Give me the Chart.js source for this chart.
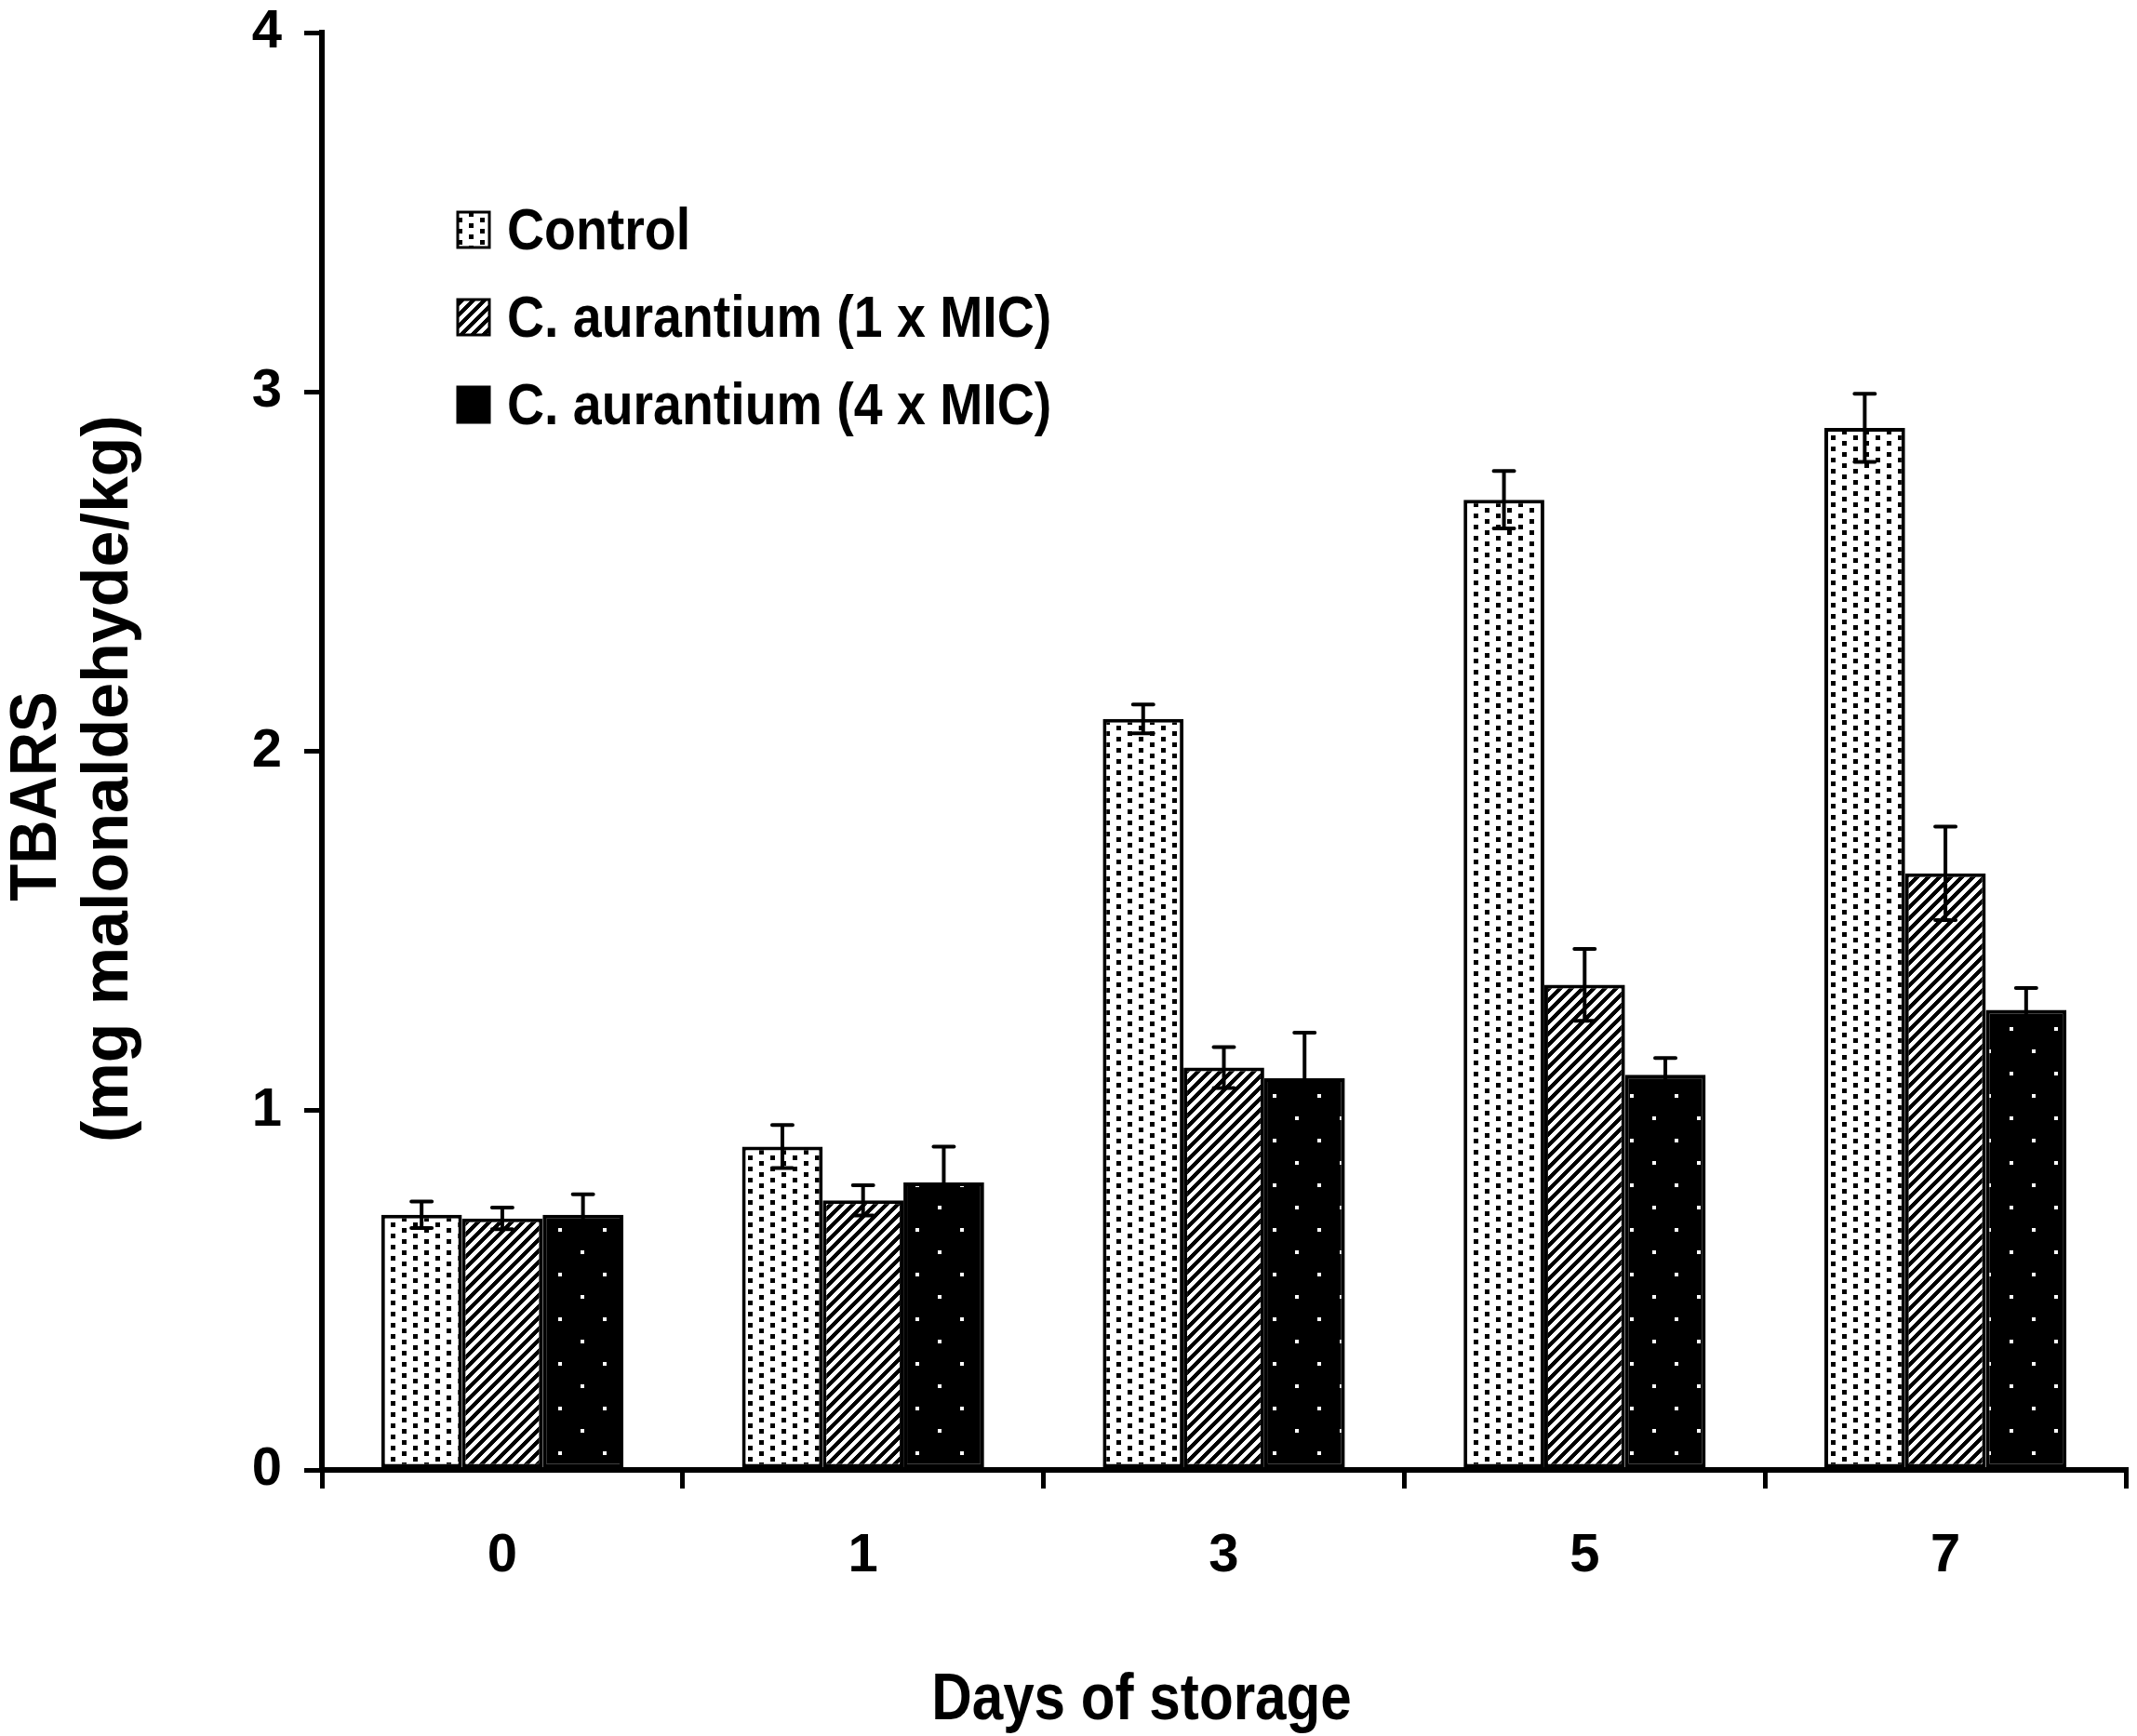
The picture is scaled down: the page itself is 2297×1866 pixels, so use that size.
<!DOCTYPE html>
<html>
<head>
<meta charset="utf-8">
<script src="https://cdn.jsdelivr.net/npm/chart.js@4.4.1/dist/chart.umd.min.js"></script>
<style>
  body { margin: 0; background: #fff; }
  canvas { display: block; }
</style>
</head>
<body>
<canvas id="tbarsChart" width="2297" height="1866" style="width:2297px;height:1866px"></canvas>
<script>
// days of storage on the x axis
const days = ['0', '1', '3', '5', '7'];
const seriesNames = ['Control', 'C. aurantium (1 x MIC)', 'C. aurantium (4 x MIC)'];

// TBARS (mg malonaldehyde/kg)
const control = [0.71, 0.90, 2.09, 2.70, 2.90];
const mic1 = [0.70, 0.75, 1.12, 1.35, 1.66];
const mic4 = [0.71, 0.80, 1.09, 1.10, 1.28];

// error bars (+/-)
const controlErr = [0.037, 0.06, 0.04, 0.08, 0.095];
const mic1Err = [0.03, 0.042, 0.057, 0.10, 0.13];
const mic4Err = [0.057, 0.10, 0.127, 0.046, 0.061];

const yTicks = [0, 1, 2, 3, 4];

const FONT = "'Liberation Sans', Arial, sans-serif";

// build a small tile and turn it into a canvas pattern
function makePattern(w, h, bg, fg, paint) {
  const c = document.createElement('canvas');
  c.width = w;
  c.height = h;
  const g = c.getContext('2d');
  g.fillStyle = bg;
  g.fillRect(0, 0, w, h);
  g.fillStyle = fg;
  paint(g, w, h);
  return document.getElementById('tbarsChart').getContext('2d').createPattern(c, 'repeat');
}

// control: small black dots on white, alternate columns shifted
const patControl = makePattern(24, 12, '#fff', '#000', function (g) {
  g.fillRect(0, 0, 5, 5);
  g.fillRect(12, 6, 5, 5);
});

// 1 x MIC: diagonal stripes going up to the right
const patMic1 = makePattern(12, 12, '#fff', '#000', function (g, w, h) {
  for (let x = 0; x < w; x++) {
    for (let y = 0; y < h; y++) {
      if ((x + y) % 12 < 6) g.fillRect(x, y, 1, 1);
    }
  }
});

// 4 x MIC: black with small white dots
const patMic4 = makePattern(48, 48, '#000', '#fff', function (g) {
  g.fillRect(0, 0, 4, 4);
  g.fillRect(24, 24, 4, 4);
});

const errorBars = {
  id: 'errorBars',
  afterDatasetsDraw(chart) {
    const ctx = chart.ctx;
    const y = chart.scales.y;
    ctx.save();
    ctx.strokeStyle = '#000';
    ctx.lineWidth = 4;
    ctx.lineCap = 'round';
    chart.data.datasets.forEach((ds, i) => {
      const meta = chart.getDatasetMeta(i);
      meta.data.forEach((bar, j) => {
        const v = ds.data[j];
        const e = ds.errors[j];
        const yTop = y.getPixelForValue(v + e);
        const yBot = y.getPixelForValue(v - e);
        const x = bar.x;
        ctx.beginPath();
        ctx.moveTo(x, yTop);
        ctx.lineTo(x, yBot);
        ctx.moveTo(x - 11, yTop);
        ctx.lineTo(x + 11, yTop);
        ctx.moveTo(x - 11, yBot);
        ctx.lineTo(x + 11, yBot);
        ctx.stroke();
      });
    });
    ctx.restore();
  }
};

function drawText(ctx, str, x, y, size, sx, align, rot) {
  ctx.save();
  ctx.translate(x, y);
  if (rot) ctx.rotate(rot);
  ctx.scale(sx, 1);
  ctx.font = 'bold ' + size + 'px ' + FONT;
  ctx.fillStyle = '#000';
  ctx.textAlign = align;
  ctx.textBaseline = 'alphabetic';
  ctx.fillText(str, 0, 0);
  ctx.restore();
}

// legend inside the plot and the axis titles
const labelsPlugin = {
  id: 'labelsPlugin',
  afterDraw(chart) {
    const ctx = chart.ctx;
    chart.data.datasets.forEach((ds, i) => {
      const top = 228 + 94 * i;
      ctx.save();
      ctx.fillStyle = ds.backgroundColor;
      ctx.fillRect(492, top, 34, 38);
      ctx.strokeStyle = '#000';
      ctx.lineWidth = 3;
      ctx.strokeRect(492, top, 34, 38);
      ctx.restore();
      drawText(ctx, ds.label, 545, top + 40, 63, 0.88, 'left');
    });

    drawText(ctx, 'Days of storage', 1227, 1848, 70, 0.86, 'center');
    drawText(ctx, 'TBARS', 60, 856, 70, 0.935, 'center', -Math.PI / 2);
    drawText(ctx, '(mg malonaldehyde/kg)', 137, 837, 70, 1, 'center', -Math.PI / 2);
  }
};

const tickFont = { family: FONT, size: 58, weight: 'bold' };

new Chart(document.getElementById('tbarsChart'), {
  type: 'bar',
  data: {
    labels: days,
    datasets: [
      { label: seriesNames[0], data: control, errors: controlErr, backgroundColor: patControl },
      { label: seriesNames[1], data: mic1, errors: mic1Err, backgroundColor: patMic1 },
      { label: seriesNames[2], data: mic4, errors: mic4Err, backgroundColor: patMic4 }
    ]
  },
  options: {
    responsive: false,
    animation: false,
    devicePixelRatio: 1,
    layout: { padding: { top: 35, right: 12, left: 0, bottom: 0 } },
    datasets: {
      bar: {
        categoryPercentage: 0.671,
        barPercentage: 1,
        borderColor: '#000',
        borderWidth: 4,
        borderSkipped: false
      }
    },
    plugins: {
      legend: { display: false },
      tooltip: { enabled: false }
    },
    scales: {
      x: {
        offset: true,
        grid: { offset: true, drawOnChartArea: false, color: '#000', lineWidth: 5, tickLength: 20 },
        border: { color: '#000', width: 6 },
        ticks: { color: '#000', font: tickFont, padding: 38 },
        afterFit(scale) { scale.height = 286; }
      },
      y: {
        min: 0,
        max: 4,
        afterBuildTicks(scale) { scale.ticks = yTicks.map(v => ({ value: v })); },
        grid: { drawOnChartArea: false, color: '#000', lineWidth: 5, tickLength: 19 },
        border: { color: '#000', width: 6 },
        ticks: { color: '#000', font: { family: FONT, size: 58, weight: 'bold', lineHeight: 1 }, padding: 24 },
        afterFit(scale) {
          scale.width = 346;
          scale.paddingTop = 0;
          scale.paddingBottom = 0;
        }
      }
    }
  },
  plugins: [errorBars, labelsPlugin]
});
</script>
</body>
</html>
